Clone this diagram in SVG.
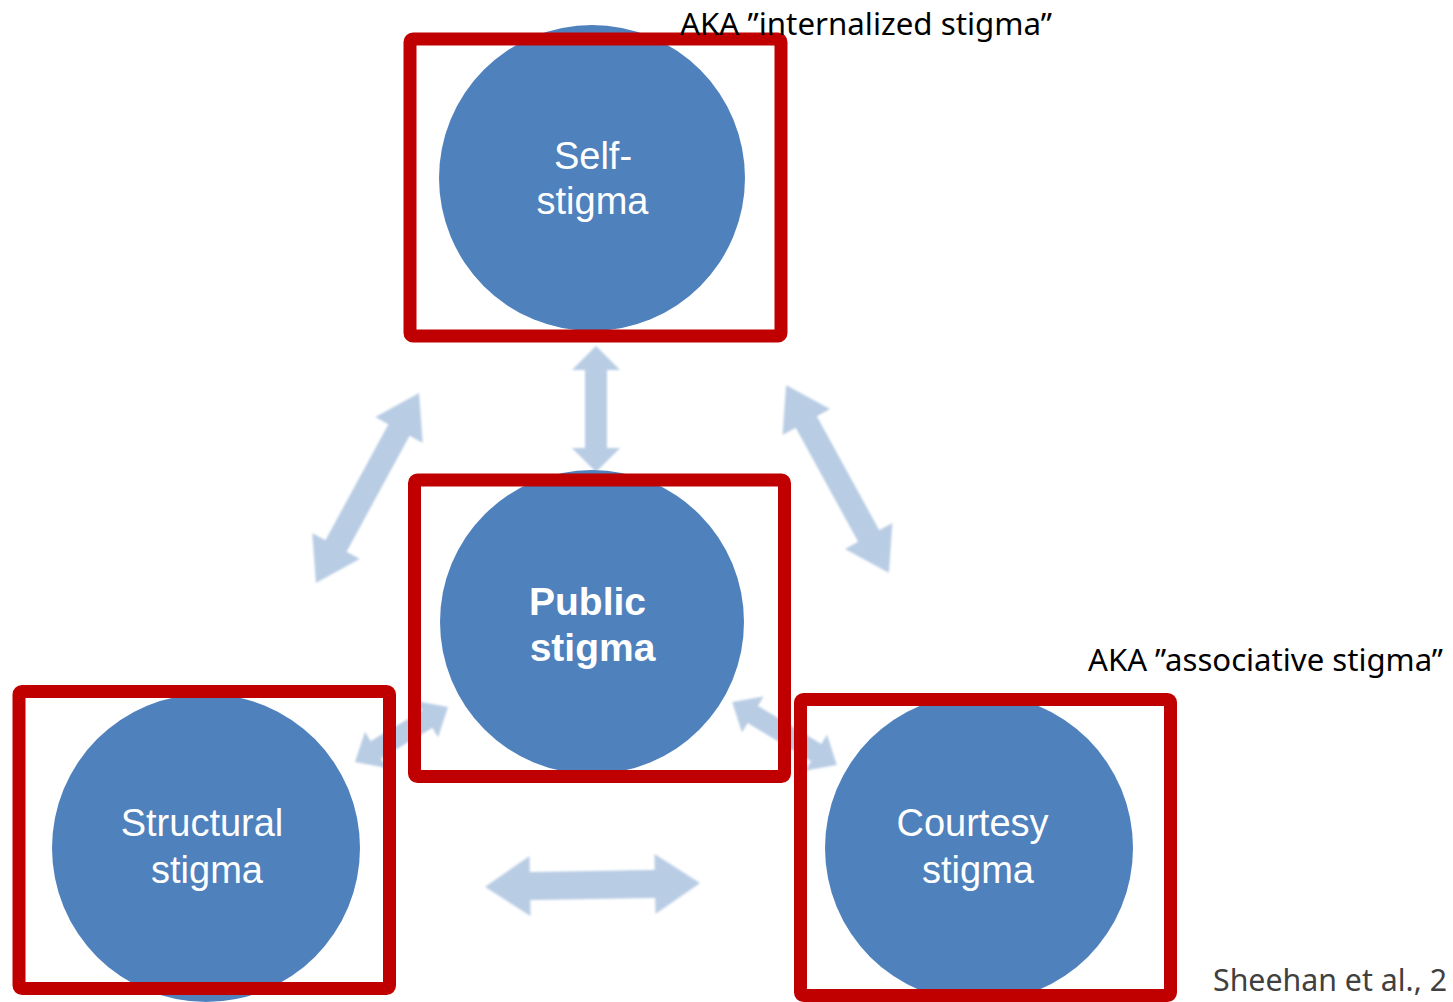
<svg xmlns="http://www.w3.org/2000/svg" width="1453" height="1002" viewBox="0 0 1453 1002">
<defs>
<style>
.arrow{fill:#B8CCE4;filter:url(#soft)}
.circ{fill:#4F81BD}
.box{fill:none;stroke:#C00000;stroke-width:13}
.lbl{font-family:"Liberation Sans",Arial,sans-serif;font-size:38px;fill:#FFFFFF;text-anchor:middle}
.bold{font-weight:bold;font-size:39px}
.note{font-family:"Noto Sans","Open Sans",sans-serif;font-size:31px;fill:#000000}
.cite{fill:#404040;font-size:30px}
</style>
<filter id="soft" x="-10%" y="-10%" width="120%" height="120%">
<feGaussianBlur stdDeviation="1"/>
</filter>
</defs>
<rect width="1453" height="1002" fill="#FFFFFF"/>
<g id="connectors">
<path class="arrow" transform="translate(596,409) rotate(90)" d="M-63,0 L-39,-24 L-39,-11 L39,-11 L39,-24 L63,0 L39,24 L39,11 L-39,11 L-39,24Z"/>
<path class="arrow" transform="translate(367.5,488) rotate(-61.5)" d="M-108,0 L-66,-27 L-66,-12 L66,-12 L66,-27 L108,0 L66,27 L66,12 L-66,12 L-66,27Z"/>
<path class="arrow" transform="translate(837.5,479) rotate(61.3)" d="M-107,0 L-65,-27 L-65,-12 L65,-12 L65,-27 L107,0 L65,27 L65,12 L-65,12 L-65,27Z"/>
<path class="arrow" transform="translate(592.5,885) rotate(-1)" d="M-107.5,0 L-62.5,-30 L-62.5,-14 L62.5,-14 L62.5,-30 L107.5,0 L62.5,30 L62.5,14 L-62.5,14 L-62.5,30Z"/>
<path class="arrow" transform="translate(401.5,734.5) rotate(-30.6)" d="M-54,0 L-30,-21 L-30,-10 L30,-10 L30,-21 L54,0 L30,21 L30,10 L-30,10 L-30,21Z"/>
<path class="arrow" transform="translate(784.5,733.5) rotate(31)" d="M-61,0 L-37,-21 L-37,-10 L37,-10 L37,-21 L61,0 L37,21 L37,10 L-37,10 L-37,21Z"/>
</g>
<g id="self-stigma">
<circle class="circ" cx="592" cy="178" r="153"/>
<rect class="box" x="410" y="39" width="371" height="297" rx="3"/>
<text class="lbl" x="593" y="169">Self-</text>
<text class="lbl" x="592.5" y="214">stigma</text>
</g>
<g id="public-stigma">
<circle class="circ" cx="592" cy="622" r="152"/>
<rect class="box" x="414.5" y="480" width="370" height="296.5" rx="3"/>
<text class="lbl bold" x="587.5" y="615">Public</text>
<text class="lbl bold" x="592.5" y="661">stigma</text>
</g>
<g id="structural-stigma">
<circle class="circ" cx="206" cy="848" r="154"/>
<rect class="box" x="19" y="691.5" width="370.5" height="297" rx="3"/>
<text class="lbl" x="202" y="836">Structural</text>
<text class="lbl" x="207" y="883">stigma</text>
</g>
<g id="courtesy-stigma">
<circle class="circ" cx="979" cy="848" r="154"/>
<rect class="box" x="800.5" y="699.5" width="370" height="296" rx="3"/>
<text class="lbl" x="972.5" y="836">Courtesy</text>
<text class="lbl" x="978" y="883">stigma</text>
</g>
<g id="annotations">
<text class="note" x="680" y="35" textLength="372" lengthAdjust="spacingAndGlyphs">AKA ”internalized stigma”</text>
<text class="note" x="1088" y="671" textLength="355" lengthAdjust="spacingAndGlyphs">AKA ”associative stigma”</text>
<text class="note cite" x="1213" y="991" textLength="234" lengthAdjust="spacingAndGlyphs">Sheehan et al., 2</text>
</g>
</svg>
